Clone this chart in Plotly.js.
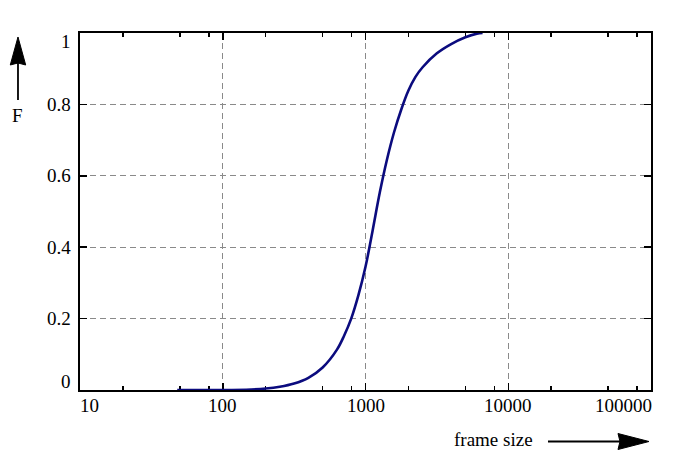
<!DOCTYPE html>
<html>
<head>
<meta charset="utf-8">
<script src="https://cdn.plot.ly/plotly-3.0.1.min.js"></script>
<style>html,body{margin:0;padding:0;background:#fff;}#chart{width:700px;height:460px;}</style>
</head>
<body>
<div id="chart"></div>
<script>
// Data (CDF of frame size)
const frameSize = [48, 100, 158, 200, 251, 316, 398, 501, 631, 708, 794, 891, 1000, 1122, 1259, 1413, 1585, 1778, 1995, 2239, 2512, 3162, 3981, 5012, 6026, 6607];
const cdfF      = [0, 0, 0.0015, 0.004, 0.009, 0.018, 0.034, 0.063, 0.113, 0.152, 0.20, 0.265, 0.345, 0.447, 0.553, 0.645, 0.722, 0.785, 0.838, 0.877, 0.904, 0.943, 0.969, 0.988, 0.998, 1.0];

const xTickVals = [10, 100, 1000, 10000, 100000];
const xTickText = ["10", "100", "1000", "10000", "100000"];
const xMinorVals = [20, 50, 80, 200, 500, 800, 2000, 5000, 8000, 20000, 50000, 80000];
const yTickVals = [0, 0.2, 0.4, 0.6, 0.8, 1];
const yTickText = ["0", "0.2", "0.4", "0.6", "0.8", "1"];

const FONT = "Liberation Serif, Times New Roman, serif";
const FS = 19;

const annotations = [];
xTickVals.forEach((v, i) => {
  const last = i === xTickVals.length - 1;
  const first = i === 0;
  annotations.push({
    xref: "x", yref: "paper", x: Math.log10(v), y: 0,
    text: xTickText[i], showarrow: false,
    xanchor: first ? "left" : (last ? "right" : "center"),
    xshift: first ? -2 : (last ? 3 : 0),
    yanchor: "middle", yshift: -15,
    font: {family: FONT, size: FS, color: "#000"}
  });
});
yTickVals.forEach((v, i) => {
  const first = i === 0;
  const last = i === yTickVals.length - 1;
  annotations.push({
    xref: "paper", yref: "y", x: 0, y: v,
    text: yTickText[i], showarrow: false,
    xanchor: "right", xshift: -7,
    yanchor: "middle", yshift: first ? 9 : (last ? -8 : 0),
    font: {family: FONT, size: FS, color: "#000"}
  });
});
annotations.push({
  xref: "paper", yref: "paper", x: 0.725, y: -0.140, text: "frame size",
  showarrow: false, xanchor: "center", yanchor: "middle",
  font: {family: FONT, size: FS, color: "#000"}
});
annotations.push({
  xref: "paper", yref: "paper", x: -0.1086, y: 0.7703, text: "F",
  showarrow: false, xanchor: "center", yanchor: "middle",
  font: {family: FONT, size: FS, color: "#000"}
});

const shapes = [
  {type: "line", xref: "paper", yref: "paper", x0: -0.1086, x1: -0.1086, y0: 0.8123, y1: 0.93, line: {color: "#000", width: 1.8}},
  {type: "path", xref: "paper", yref: "paper",
   path: "M -0.1086 0.9888 L -0.1221 0.9104 L -0.1086 0.9160 L -0.0951 0.9104 Z",
   fillcolor: "#000", line: {color: "#000", width: 1}},
  {type: "line", xref: "paper", yref: "paper", x0: 0.8196, x1: 0.96, y0: -0.1443, y1: -0.1443, line: {color: "#000", width: 1.8}},
  {type: "path", xref: "paper", yref: "paper",
   path: "M 0.9965 -0.1443 L 0.9422 -0.1219 L 0.9457 -0.1443 L 0.9422 -0.1667 Z",
   fillcolor: "#000", line: {color: "#000", width: 1}}
];

const axisCommon = {
  showline: true, linecolor: "#000", linewidth: 2, mirror: "allticks",
  ticks: "inside", ticklen: 7, tickwidth: 1.5, tickcolor: "#000",
  showgrid: true, gridcolor: "#8a8a8a", gridwidth: 1, griddash: "6px,4px",
  zeroline: false, showticklabels: false, layer: "below traces",
  fixedrange: true
};

const data = [{
  type: "scatter", mode: "lines",
  x: frameSize, y: cdfF,
  line: {color: "#0b0b7e", width: 2.6, shape: "spline", smoothing: 1},
  hoverinfo: "skip", showlegend: false
}];

const layout = {
  width: 700, height: 460,
  margin: {l: 80, r: 49, t: 33, b: 70, pad: 0},
  paper_bgcolor: "#fff", plot_bgcolor: "#fff",
  showlegend: false,
  font: {family: FONT, size: FS, color: "#000"},
  xaxis: Object.assign({}, axisCommon, {
    type: "log", range: [1, 5],
    tickmode: "array", tickvals: xTickVals,
    minor: {tickmode: "array", tickvals: xMinorVals, ticks: "inside", ticklen: 4, tickwidth: 1.5, tickcolor: "#000", showgrid: false}
  }),
  yaxis: Object.assign({}, axisCommon, {
    range: [0, 1],
    tickmode: "array", tickvals: yTickVals
  }),
  annotations: annotations,
  shapes: shapes
};

Plotly.newPlot("chart", data, layout, {staticPlot: true, displayModeBar: false});
</script>
</body>
</html>
